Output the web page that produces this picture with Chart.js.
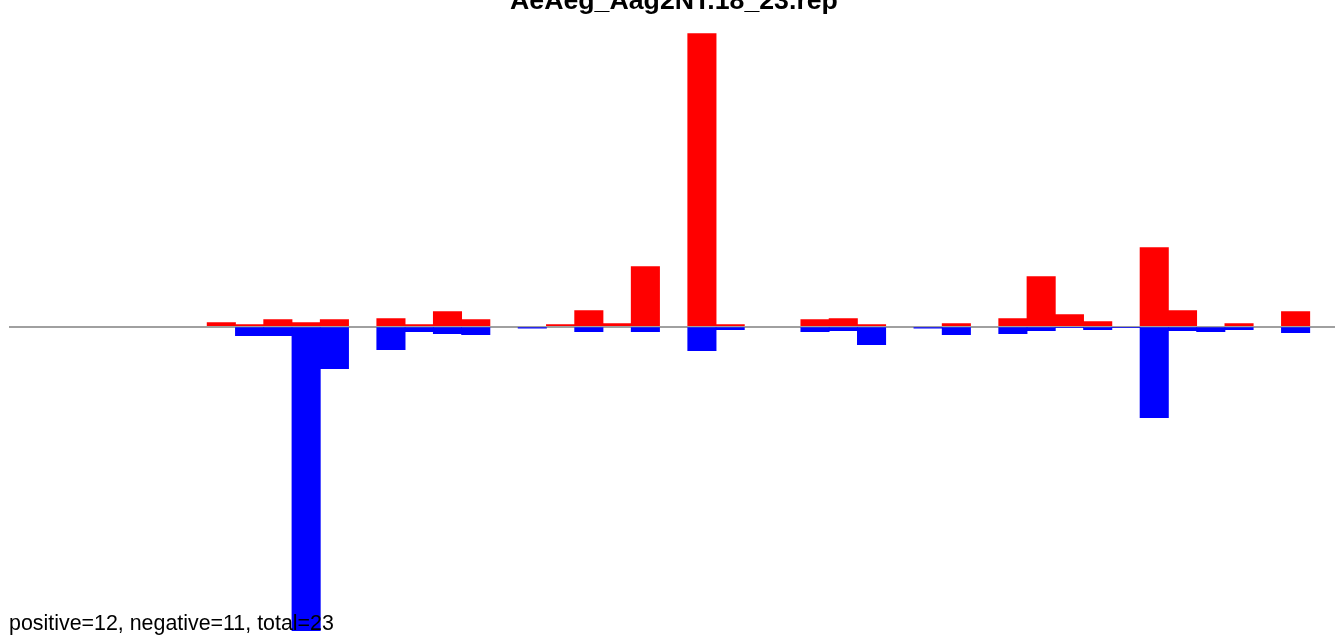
<!DOCTYPE html>
<html>
<head>
<meta charset="utf-8">
<script src="https://cdn.jsdelivr.net/npm/chart.js@4.4.1/dist/chart.umd.min.js"></script>
<style>
  html, body { margin: 0; padding: 0; background: #fff; overflow: hidden; }
  #wrap { position: relative; width: 1338px; height: 638px; }
  #title {
    position: absolute; top: -13px; left: 674px; transform: translateX(-50%);
    font: bold 26.7px "Liberation Sans", Arial, sans-serif; line-height: 26.7px;
    white-space: nowrap; color: #000;
  }
  #footer {
    position: absolute; top: 613px; left: 9px;
    font: 21.4px "Liberation Sans", Arial, sans-serif; line-height: 21px;
    white-space: nowrap; color: #000;
  }
</style>
</head>
<body>
<div id="wrap">
  <canvas id="chart" width="1338" height="638"></canvas>
  <div id="title">AeAeg_Aag2NT.18_23.rep</div>
  <div id="footer">positive=12, negative=11, total=23</div>
</div>
<script>
// posiciones (una por barra)
const positions = Array.from({ length: 47 }, (_, i) => String(i + 1));

// valores positivos (rojo)
const positiveValues = [
  0, 0, 0, 0, 0, 0, 0, 0.4, 0.2, 0.7,
  0.4, 0.7, 0, 0.8, 0.2, 1.5, 0.7, 0, 0, 0.2,
  1.6, 0.3, 6.0, 0, 29.3, 0.2, 0, 0, 0.7, 0.8,
  0.2, 0, 0, 0.3, 0, 0.8, 5.0, 1.2, 0.5, 0,
  7.9, 1.6, 0, 0.3, 0, 1.5, 0
];

// valores negativos (azul)
const negativeValues = [
  0, 0, 0, 0, 0, 0, 0, 0, -0.9, -0.9,
  -30.4, -4.2, 0, -2.3, -0.5, -0.7, -0.8, 0, -0.15, 0,
  -0.5, 0, -0.5, 0, -2.4, -0.3, 0, 0, -0.5, -0.4,
  -1.8, 0, -0.15, -0.8, 0, -0.7, -0.4, -0.1, -0.3, -0.1,
  -9.1, -0.4, -0.5, -0.3, 0, -0.6, 0
];

const yMin = -31.13;
const yMax = 32.67;

// evitar huecos blancos entre barras vecinas, sin dibujar las de valor 0
const inflate = c => (c.raw === 0 ? 0 : 0.4);

const ctx = document.getElementById('chart').getContext('2d');

new Chart(ctx, {
  type: 'bar',
  data: {
    labels: positions,
    datasets: [
      {
        label: 'positive',
        data: positiveValues,
        backgroundColor: '#ff0000',
        borderWidth: 0,
        inflateAmount: inflate,
        barPercentage: 1,
        categoryPercentage: 1
      },
      {
        label: 'negative',
        data: negativeValues,
        backgroundColor: '#0000ff',
        borderWidth: 0,
        inflateAmount: inflate,
        barPercentage: 1,
        categoryPercentage: 1
      }
    ]
  },
  options: {
    responsive: false,
    animation: false,
    layout: { padding: { left: 9.3, right: 0, top: 0, bottom: 0 } },
    plugins: {
      legend: { display: false },
      tooltip: { enabled: false }
    },
    scales: {
      x: {
        stacked: true,
        display: false,
        offset: true
      },
      y: {
        stacked: true,
        min: yMin,
        max: yMax,
        afterBuildTicks: scale => { scale.ticks = [{ value: 0 }]; },
        ticks: { display: false },
        border: { display: false },
        grid: {
          drawTicks: false,
          color: c => c.tick && c.tick.value === 0 ? '#a0a0a0' : 'transparent',
          lineWidth: 2
        }
      }
    }
  }
});
</script>
</body>
</html>
